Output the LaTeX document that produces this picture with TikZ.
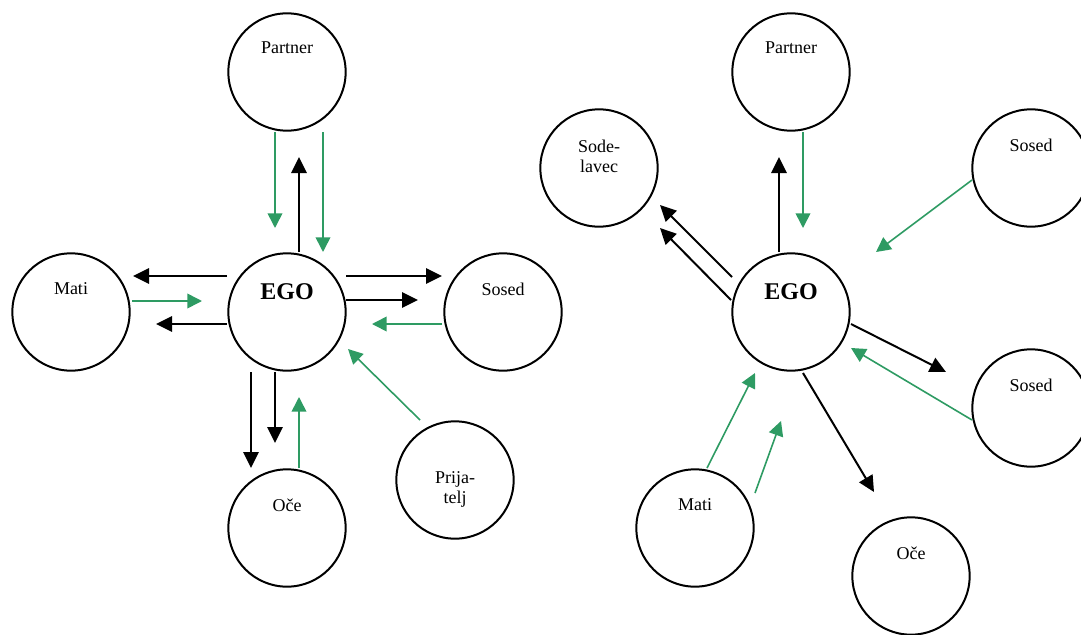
\documentclass[tikz,border=0pt]{standalone}
\usepackage{fontspec}
\setmainfont{Liberation Serif}
\usetikzlibrary{calc,arrows.meta}
\definecolor{relgreen}{RGB}{46,155,99}
\tikzset{
  person/.style={draw, circle, line width=1.5pt, minimum size=88pt, inner sep=0pt},
  who/.style={font=\fontsize{13.5}{15}\selectfont, align=center},
  egotext/.style={font=\fontsize{18}{20}\selectfont\bfseries},
  give/.style={-{Triangle[length=12pt,width=11.5pt]}, line width=1.5pt},
  take/.style={-{Triangle[length=11pt,width=11pt]}, line width=1.2pt, relgreen}
}

\begin{document}
\begin{tikzpicture}[x=0.75pt, y=-0.75pt]
    \useasboundingbox (0,0) rectangle (1081,635);

    \node (egoA) [person] at (287,312) {};
    \node (partnerA) [person] at (287,72) {};
    \node (matiA) [person] at (71,312) {};
    \node (sosedA) [person] at (503,312) {};
    \node (oceA) [person] at (287,528) {};
    \node (prijaA) [person] at (455,480) {};

    \node (egoAtxt) [egotext] at ($(egoA)+(0,-20)$) {EGO};
    \node (partnerAtxt) [who] at ($(partnerA)+(0,-24)$) {Partner};
    \node (matiAtxt) [who] at ($(matiA)+(0,-23)$) {Mati};
    \node (sosedAtxt) [who] at ($(sosedA)+(0,-23)$) {Sosed};
    \node (oceAtxt) [who] at ($(oceA)+(0,-23)$) {Oče};
    \node (prijaAtxt) [who] at ($(prijaA)+(0,9)$) {Prija-\\telj};

    \draw[take] ($(partnerA)+(-12,60)$) -- ($(egoA)+(-12,-84)$);
    \draw[give] ($(egoA)+(12,-60)$) -- ($(partnerA)+(12,85)$);
    \draw[take] ($(partnerA)+(36,60)$) -- ($(egoA)+(36,-60)$);
    \draw[give] ($(egoA)+(-60,-36)$) -- ($(matiA)+(62,-36)$);
    \draw[take] ($(matiA)+(61,-11)$) -- ($(egoA)+(-85,-11)$);
    \draw[give] ($(egoA)+(-60,12)$) -- ($(matiA)+(85,12)$);
    \draw[give] ($(egoA)+(59,-36)$) -- ($(sosedA)+(-61,-36)$);
    \draw[give] ($(egoA)+(59,-12)$) -- ($(sosedA)+(-85,-12)$);
    \draw[take] ($(sosedA)+(-61,12)$) -- ($(egoA)+(85,12)$);
    \draw[take] ($(prijaA)+(-35,-60)$) -- ($(egoA)+(61,37)$);
    \draw[give] ($(egoA)+(-36,60)$) -- ($(oceA)+(-36,-60)$);
    \draw[give] ($(egoA)+(-12,60)$) -- ($(oceA)+(-12,-85)$);
    \draw[take] ($(oceA)+(12,-60)$) -- ($(egoA)+(12,85)$);

    \node (egoB) [person] at (791,312) {};
    \node (partnerB) [person] at (791,72) {};
    \node (sodeB) [person] at (599,168) {};
    \node (sosedB) [person] at (1031,168) {};
    \node (sosedC) [person] at (1031,408) {};
    \node (matiB) [person] at (695,528) {};
    \node (oceB) [person] at (911,576) {};

    \node (egoBtxt) [egotext] at ($(egoB)+(0,-20)$) {EGO};
    \node (partnerBtxt) [who] at ($(partnerB)+(0,-24)$) {Partner};
    \node (sodeBtxt) [who] at ($(sodeB)+(0,-12)$) {Sode-\\lavec};
    \node (sosedBtxt) [who] at ($(sosedB)+(0,-23)$) {Sosed};
    \node (sosedCtxt) [who] at ($(sosedC)+(0,-23)$) {Sosed};
    \node (matiBtxt) [who] at ($(matiB)+(0,-23)$) {Mati};
    \node (oceBtxt) [who] at ($(oceB)+(0,-23)$) {Oče};

    \draw[give] ($(egoB)+(-12,-60)$) -- ($(partnerB)+(-12,85)$);
    \draw[take] ($(partnerB)+(12,60)$) -- ($(egoB)+(12,-84)$);
    \draw[give] ($(egoB)+(-59,-35)$) -- ($(sodeB)+(61,37)$);
    \draw[give] ($(egoB)+(-60,-12)$) -- ($(sodeB)+(61,60)$);
    \draw[take] ($(sosedB)+(-59,12)$) -- ($(egoB)+(85,-60)$);
    \draw[give] ($(egoB)+(60,12)$) -- ($(sosedC)+(-85,-36)$);
    \draw[take] ($(sosedC)+(-59,12)$) -- ($(egoB)+(60,36)$);
    \draw[give] ($(egoB)+(12,61)$) -- ($(oceB)+(-37,-84)$);
    \draw[take] ($(matiB)+(12,-60)$) -- ($(egoB)+(-36,61)$);
    \draw[take] ($(matiB)+(60,-35)$) -- ($(egoB)+(-10,109)$);
\end{tikzpicture}
\end{document}
